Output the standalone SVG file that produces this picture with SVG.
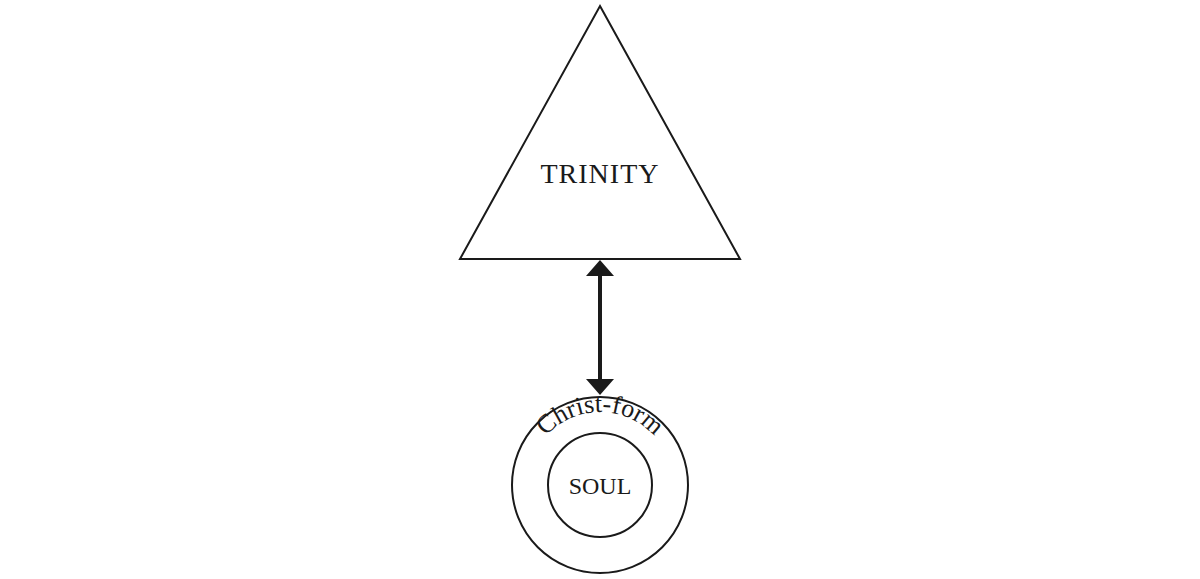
<svg xmlns="http://www.w3.org/2000/svg" width="1200" height="579" viewBox="0 0 1200 579">
<style>
.s{fill:none;stroke:#1a1a1a;stroke-width:2}
.t{font-family:"Liberation Serif",serif;fill:#1a1a1a}
</style>
<defs>
<path id="arc" d="M 527 485 A 73 73 0 0 1 673 485"/>
</defs>
<rect width="1200" height="579" fill="#fff"/>
<g id="connectors">
<line x1="600" y1="275" x2="600" y2="381" stroke="#1a1a1a" stroke-width="4"/>
<polygon points="600,260 614,276 586,276" fill="#1a1a1a"/>
<polygon points="600,395 614,379 586,379" fill="#1a1a1a"/>
</g>
<g id="trinity">
<polygon class="s" points="600,6 740,259 460,259"/>
<text class="t" x="600" y="183" font-size="28" text-anchor="middle" letter-spacing="1">TRINITY</text>
</g>
<g id="christform">
<circle class="s" cx="600" cy="485" r="88"/>
<text class="t" font-size="26"><textPath href="#arc" startOffset="50%" text-anchor="middle">Christ-form</textPath></text>
</g>
<g id="soul">
<circle class="s" cx="600" cy="485" r="52"/>
<text class="t" x="600" y="494" font-size="24" text-anchor="middle">SOUL</text>
</g>
</svg>
